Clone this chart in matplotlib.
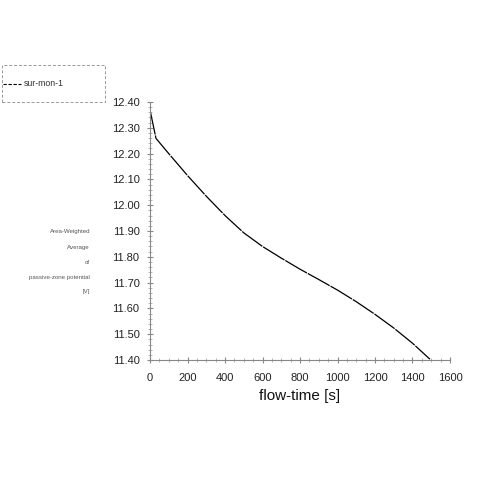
import matplotlib
matplotlib.use("Agg")
import matplotlib.pyplot as plt
from matplotlib.patches import Rectangle
from matplotlib.lines import Line2D
from matplotlib.ticker import MultipleLocator, AutoMinorLocator, FormatStrFormatter

plt.rcParams['font.family'] = ['Liberation Sans', 'DejaVu Sans']

# flow-time [s] and area-weighted average potential [V]
flow_time = [0, 32, 100, 200, 300, 400, 500, 600, 700, 800, 900, 1000,
             1100, 1200, 1300, 1400, 1493]
potential = [12.369, 12.259, 12.200, 12.115, 12.035, 11.960, 11.893, 11.840,
             11.795, 11.752, 11.712, 11.671, 11.626, 11.577, 11.524, 11.465, 11.403]
series_name = "sur-mon-1"
ylabel_lines = ["Area-Weighted", "Average", "of", "passive-zone potential", "[V]"]

grey = "#555555"
fig = plt.figure(figsize=(5, 5), dpi=100)
ax = fig.add_axes([0.30, 0.28, 0.60, 0.516])

ax.plot(flow_time, potential, color="black", lw=0.9, dashes=(20, 0.8))

ax.set_xlim(0, 1600)
ax.set_ylim(11.40, 12.40)
ax.xaxis.set_major_locator(MultipleLocator(200))
ax.yaxis.set_major_locator(MultipleLocator(0.10))
ax.xaxis.set_minor_locator(AutoMinorLocator(4))
ax.yaxis.set_minor_locator(AutoMinorLocator(5))
ax.yaxis.set_major_formatter(FormatStrFormatter("%.2f"))

for s in ["top", "right"]:
    ax.spines[s].set_visible(False)
for s in ["left", "bottom"]:
    ax.spines[s].set_color("#888888")
    ax.spines[s].set_linewidth(0.8)

ax.tick_params(which="major", direction="inout", length=5, color="#888888",
               labelsize=8, labelcolor="#222222")
ax.tick_params(axis="y", which="major", pad=5)
ax.tick_params(axis="x", which="major", pad=7)
ax.tick_params(which="minor", direction="inout", length=3, color="#aaaaaa")

ax.set_xlabel("flow-time [s]", fontsize=11, color="#111111", labelpad=4)

# stacked y label to the left of the axis
for i, line in enumerate(ylabel_lines):
    fig.text(0.18, 0.536 - i * 0.030, line, ha="right", va="center",
             fontsize=4.4, color=grey)

# legend box in the top-left corner
fig.patches.append(Rectangle((0.004, 0.796), 0.206, 0.074, transform=fig.transFigure,
                             fill=False, edgecolor="#999999", lw=0.7,
                             linestyle=(0, (3, 2))))
fig.lines.append(Line2D([0.006, 0.042], [0.832, 0.832], transform=fig.transFigure,
                        color="black", lw=0.8, dashes=(3, 1.5)))
fig.text(0.047, 0.832, series_name, ha="left", va="center", fontsize=6.3, color="#333333")

fig.savefig("out.png", dpi=100)
